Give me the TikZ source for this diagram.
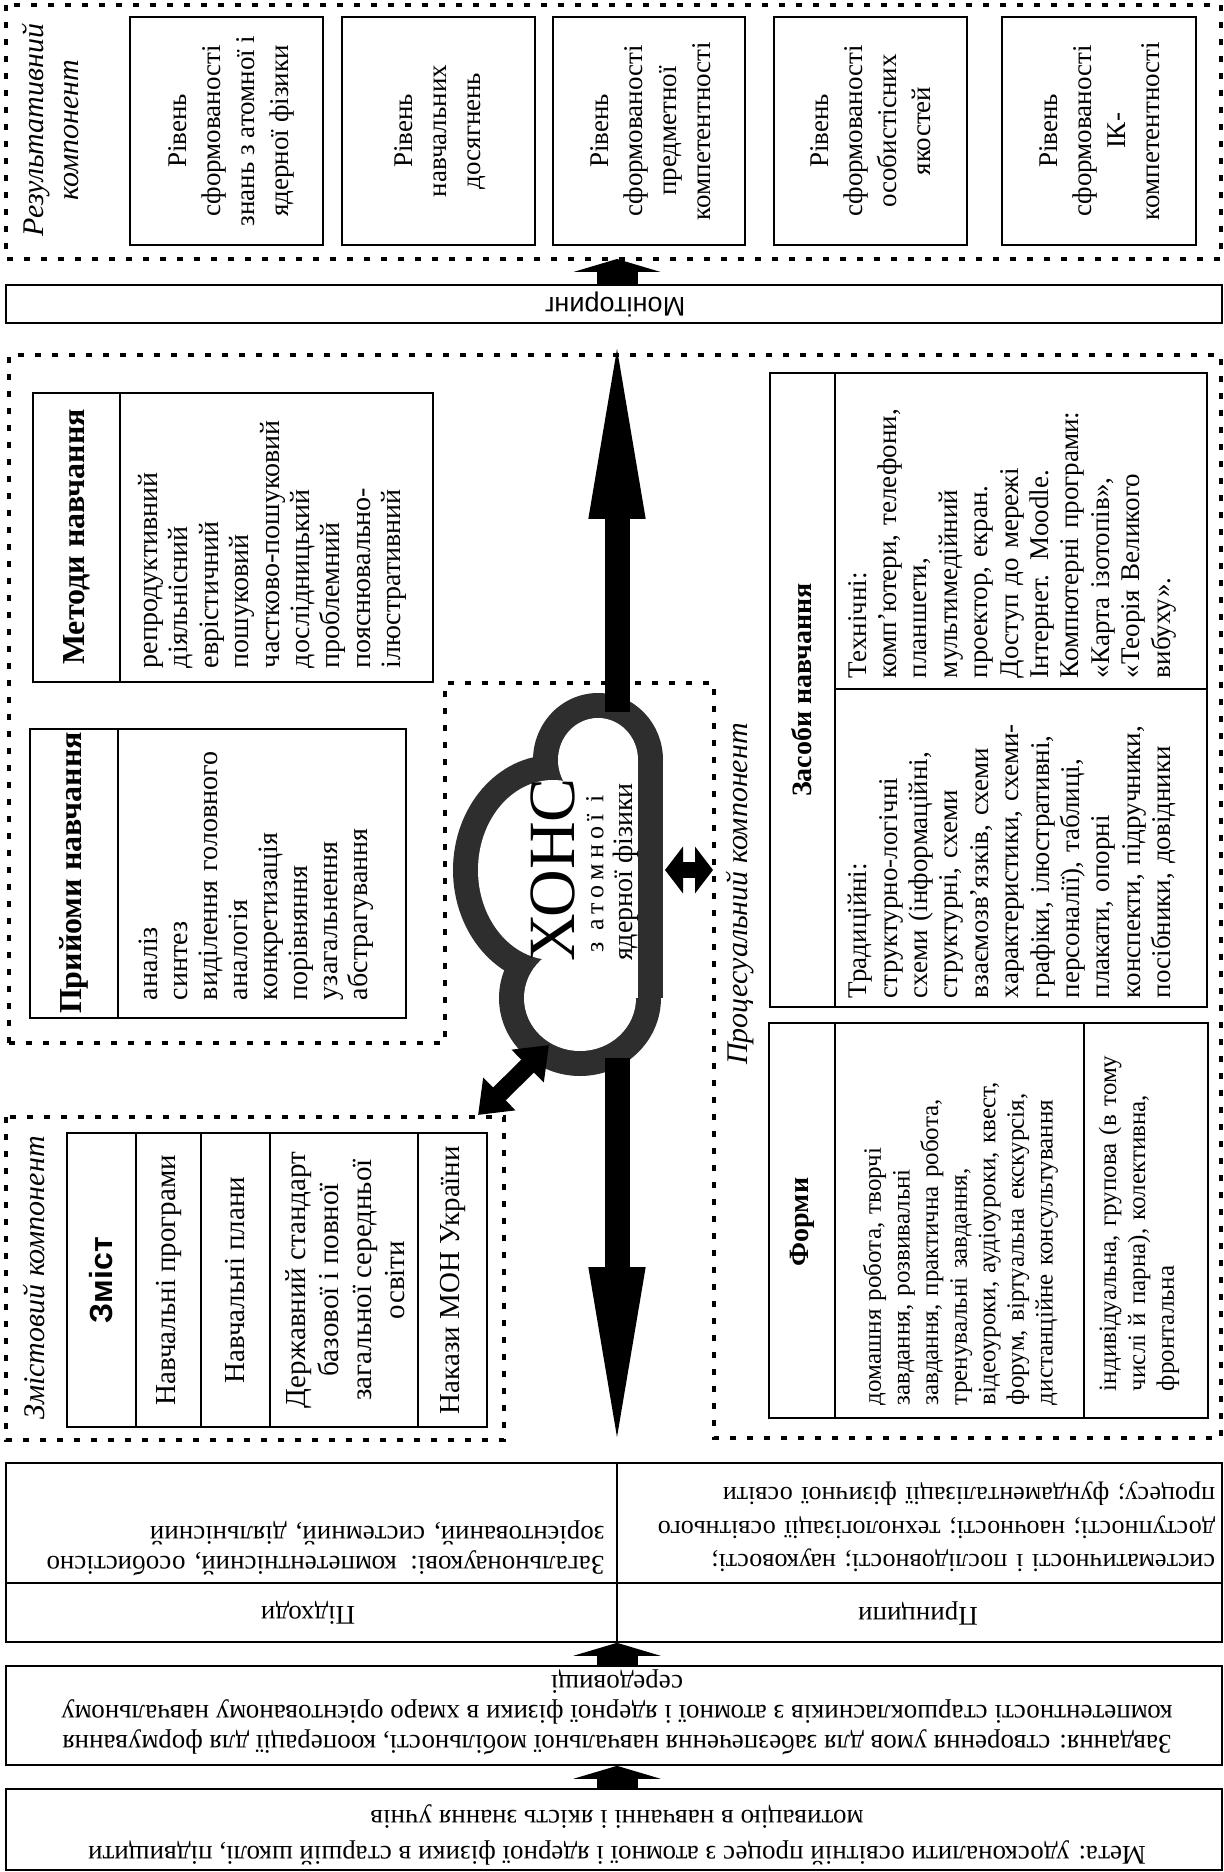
\documentclass[tikz,border=0pt]{standalone}
\usepackage{fontspec}
\setmainfont{Liberation Serif}
\setsansfont{Liberation Sans}
\usetikzlibrary{arrows.meta}
\newcommand\myfs[2]{\fontsize{#1}{#2}\selectfont}
\definecolor{cloudc}{HTML}{2E2E2E}
\begin{document}
\begin{tikzpicture}[x=0.5pt,y=-0.5pt,
  box/.style={draw,line width=0.8pt},
  dsh/.style={line width=1.8pt,dash pattern=on 3pt off 5.5pt},
  tx/.style={inner sep=0pt},
  r90/.style={tx,rotate=90},
  r180/.style={tx,rotate=180},
  bigblk/.style={line width=12.5pt,-{Triangle[length=97.5pt,width=24.5pt]}},
  smblk/.style={line width=20.5pt,-{Triangle[length=6.5pt,width=43.5pt]}},
  dblA/.style={line width=9pt,{Triangle[length=15pt,width=22pt]}-{Triangle[length=15pt,width=22pt]}},
  dblB/.style={line width=8pt,{Triangle[length=9pt,width=23pt]}-{Triangle[length=9pt,width=23pt]}},
  restxt/.style={r90,align=center,font=\myfs{13.5}{17}},
  lbl/.style={r90,align=center,font=\itshape\myfs{15}{17.5}},
  hdr/.style={r90,font=\bfseries\myfs{16}{18}},
  hdrs/.style={r90,font=\bfseries\myfs{14}{16}},
  ztxt/.style={r90,align=center,font=\myfs{14.5}{16.5}},
  btxt/.style={r180,font=\myfs{13.5}{15}},
]
\useasboundingbox (0,0) rectangle (1224,1872);
\fill[white] (0,0) rectangle (1224,1872);

% ---------- dashed regions ----------
\draw[dsh] (6,5) rectangle (1221,259);
\draw[dsh] (9,1043) -- (9,355) -- (1221,355) -- (1221,1438) -- (714,1438) -- (714,683) -- (445,683) -- (445,1043) -- cycle;
\draw[dsh] (6,1117) rectangle (504,1440);

% ---------- result component ----------
\node[lbl] (reslbl) at (50,130) {Результативний\\компонент};
\draw[box] (130,17) rectangle (323,245);
\draw[box] (342,17) rectangle (535,245);
\draw[box] (553,17) rectangle (745,245);
\draw[box] (774,17) rectangle (967,245);
\draw[box] (1002,17) rectangle (1196,245);
\node[restxt] (r1) at (231,131) {Рівень\\сформованості\\знань з атомної і\\ядерної фізики};
\node[restxt] (r2) at (440,131) {Рівень\\навчальних\\досягнень};
\node[restxt] (r3) at (651,131) {Рівень\\сформованості\\предметної\\компетентності};
\node[restxt] (r4) at (871,131) {Рівень\\сформованості\\особистісних\\якостей};
\node[restxt] (r5) at (1100,131) {Рівень\\сформованості\\ІК-\\компетентності};

% ---------- monitoring ----------
\node[box,inner sep=0pt,minimum width=608pt,minimum height=19pt] (mon) at (614,304) {};
\node[r180,font=\sffamily\myfs{13.5}{16}] (montxt) at (615,304) {Моніторинг};
\coordinate (ax) at (617,0);
\coordinate (resB) at (617,259);

% ---------- methods ----------
\draw[box] (33,393) rectangle (433,682);
\draw[box] (120,393) -- (120,682);
\node[hdr] (metH) at (77,537) {Методи навчання};
\node[r90,text width=140pt,align=left,font=\myfs{14}{15.2}] (metC) at (272.5,528)
 {репродуктивний\\діяльнісний\\еврістичний\\пошуковий\\частково-пошуковий\\дослідницький\\проблемний\\пояснювально-\\ілюстративний};

% ---------- techniques ----------
\draw[box] (30,729) rectangle (406,1018);
\draw[box] (118,729) -- (118,1018);
\node[hdr] (priH) at (74,873) {Прийоми навчання};
\node[r90,text width=140pt,align=left,font=\myfs{14}{15}] (priC) at (256.5,860)
 {аналіз\\синтез\\виділення головного\\аналогія\\конкретизація\\порівняння\\узагальнення\\абстрагування};

% ---------- process label ----------
\node[lbl] (proclbl) at (740,894) {Процесуальний компонент};

% ---------- means ----------
\draw[box] (770,373) rectangle (1207,1007);
\draw[box] (835,373) -- (835,1007);
\draw[box] (835,689) -- (1207,689);
\node[hdrs] (zasH) at (802,690) {Засоби навчання};
\node[r90,text width=150pt,align=left,font=\myfs{13.5}{15.2}] (tech) at (1012,528)
 {Технічні:\\комп’ютери, телефони,\\планшети,\\мультимедійний\\проектор, екран.\\Доступ до мережі\\Інтернет. Moodle.\\Компютерні програми:\\«Карта ізотопів»,\\«Теорія Великого\\вибуху».};
\node[r90,text width=150pt,align=left,font=\myfs{13.5}{15.2}] (trad) at (1012,848)
 {Традиційні:\\структурно-логічні\\схеми (інформаційні,\\структурні, схеми\\взаємозв’язків, схеми\\характеристики, схеми-\\графіки, ілюстративні,\\персоналії), таблиці,\\плакати, опорні\\конспекти, підручники,\\посібники, довідники};

% ---------- forms ----------
\draw[box] (769,1023) rectangle (1208,1418);
\draw[box] (835,1023) -- (835,1418);
\draw[box] (1084,1023) -- (1084,1418);
\node[hdrs] (forH) at (802,1222) {Форми};
\node[r90,text width=170pt,align=left,font=\myfs{12.5}{14.3}] (forC) at (960.5,1235)
 {домашня робота, творчі\\завдання, розвивальні\\завдання, практична робота,\\тренувальні завдання,\\відеоуроки, аудіоуроки, квест,\\форум, віртуальна екскурсія,\\дистанційне консультування};
\node[r90,text width=173pt,align=left,font=\myfs{12.5}{14.4}] (forI) at (1139,1218)
 {\makebox[173pt][s]{індивідуальна, групова (в тому}\\\makebox[173pt][s]{числі й парна), колективна,}\\фронтальна};

% ---------- content component ----------
\node[lbl] (zmlbl) at (34,1278) {Змістовий компонент};
\draw[box] (67,1133) rectangle (487,1427);
\foreach \xx in {136,201,270,418} \draw[box] (\xx,1133) -- (\xx,1427);
\node[r90,font=\sffamily\bfseries\myfs{16}{18}] (zmH) at (101.5,1280) {Зміст};
\node[ztxt] (zm1) at (168.5,1280) {Навчальні програми};
\node[ztxt] (zm2) at (235.5,1280) {Навчальні плани};
\node[ztxt] (zm3) at (345,1280) {Державний стандарт\\базової і повної\\загальної середньої\\освіти};
\node[ztxt] (zm4) at (452.5,1280) {Накази МОН України};

% ---------- cloud ----------
\fill[cloudc] (598,760) ellipse [x radius=65,y radius=67];
\fill[cloudc] (553,870) ellipse [x radius=100,y radius=115];
\fill[cloudc] (580,998) ellipse [x radius=81,y radius=78];
\fill[cloudc] (580,760) rectangle (663,998);
\fill[white] (598,760) ellipse [x radius=40,y radius=42];
\fill[white] (553,870) ellipse [x radius=75,y radius=90];
\fill[white] (580,998) ellipse [x radius=56,y radius=53];
\fill[white] (580,760) rectangle (638,998);
\node[r90,font=\myfs{33}{33}] (xons) at (553,870) {ХОНС};
\node[r90,font=\myfs{13}{13}\addfontfeature{LetterSpace=20}] (xons2) at (595,874) {з атомної і};
\node[r90,font=\myfs{14}{14}] (xons3) at (626,872) {ядерної фізики};
\coordinate (cT) at (617,712);
\coordinate (cB) at (617,1058);
\coordinate (cL) at (549,1045);
\coordinate (cR) at (665,870);
\coordinate (pL) at (713,870);
\coordinate (zmC) at (478,1115);

% ---------- bottom boxes ----------
\node[box,inner sep=0pt,minimum width=608pt,minimum height=89.5pt] (ph) at (614,1552.5) {};
\draw[box] (617,1463) -- (617,1642);
\draw[box] (6,1583) -- (1222,1583);
\node[btxt] (phH) at (308,1613) {Підходи};
\node[btxt] (prH) at (918,1613) {Принципи};
\node[btxt,text width=294pt,align=left] (phT) at (310.5,1548)
 {\makebox[294pt][s]{Загальнонаукові: компетентнісний, особистісно}\\зорієнтований, системний, діяльнісний};
\node[r180,text width=295pt,align=left,font=\myfs{13}{16.7}] (prT) at (920,1527)
 {\makebox[295pt][s]{систематичності і послідовності; науковості;}\\\makebox[295pt][s]{доступності; наочності; технологізації освітнього}\\процесу; фундаменталізації фізичної освіти};

\node[box,inner sep=0pt,minimum width=608pt,minimum height=49.5pt] (zavd) at (614,1715.5) {};
\node[btxt,align=center] (zavdT) at (617,1712)
 {Завдання: створення умов для забезпечення навчальної мобільності, кооперації для формування\\компетентності старшокласників з атомної і ядерної фізики в хмаро орієнтованому навчальному\\середовищі};

\node[box,inner sep=0pt,minimum width=608pt,minimum height=40.5pt] (meta) at (614,1829.5) {};
\node[r180,align=center,font=\myfs{13.5}{18}] (metaT) at (617,1835)
 {Мета: удосконалити освітній процес з атомної і ядерної фізики в старшій школі, підвищити\\мотивацію в навчанні і якість знання учнів};

% ---------- arrows ----------
\draw[bigblk] (cT) -- (mon.south -| ax);
\draw[bigblk] (cB) -- (ph.north -| ax);
\draw[smblk] (mon.north -| ax) -- (resB);
\draw[smblk] (meta.north -| ax) -- (zavd.south -| ax);
\draw[smblk] (zavd.north -| ax) -- (ph.south -| ax);
\draw[dblA] (zmC) -- (cL);
\draw[dblB] (cR) -- (pL);
\end{tikzpicture}
\end{document}
